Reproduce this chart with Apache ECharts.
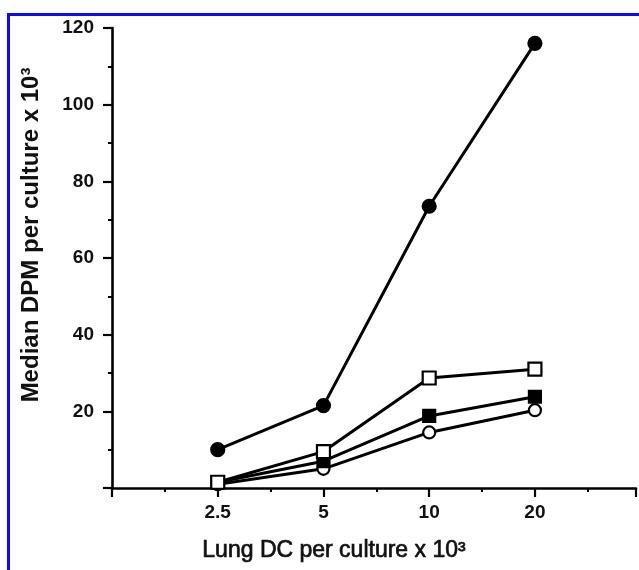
<!DOCTYPE html>
<html>
<head>
<meta charset="utf-8">
<style>
html,body{margin:0;padding:0;background:#fff;}
#chart{width:639px;height:570px;}
</style>
<script src="https://cdn.jsdelivr.net/npm/echarts@6/dist/echarts.min.js"></script>
</head>
<body>
<div id="chart"></div>
<script>
// Data
const xLabels = ['2.5', '5', '10', '20'];
const yTicks = [20, 40, 60, 80, 100, 120];
const filledCircles = [10, 21.5, 73.5, 116];
const openSquares = [1.5, 9.5, 28.7, 31];
const filledSquares = [1.5, 7, 18.8, 23.8];
const openCircles = [1, 5, 14.5, 20.3];

const xAxisName = 'Lung DC per culture x 10³';
const yAxisName = 'Median DPM per culture x 10³';

function pairs(vals){ return vals.map((v,i)=>[i+1, v]); }

const chart = echarts.init(document.getElementById('chart'), null, {renderer:'canvas'});
const font = 'Liberation Sans, Arial, sans-serif';
const lineStyle = {color:'#000', width:3};

function series(vals, symbol, filled, size){
  return {
    type:'line', data:pairs(vals), symbol:symbol, symbolSize:size,
    showAllSymbol:true, animation:false,
    lineStyle:lineStyle,
    itemStyle:{color: filled ? '#000' : '#fff', borderColor:'#000', borderWidth:2.2},
    emphasis:{disabled:true}
  };
}

chart.setOption({
  backgroundColor:'#fff',
  animation:false,
  grid:{left:112, right:0, top:28, bottom:82, containLabel:false},
  graphic:[{type:'rect', left:6, top:12, shape:{x:0,y:0,width:720,height:640}, style:{fill:'none', stroke:'#0a0aff', lineWidth:3}, silent:true, z:100}],
  xAxis:{
    type:'value', min:0, max:4.956, interval:1,
    axisLine:{lineStyle:{color:'#000', width:2.6}},
    axisTick:{length:9, lineStyle:{color:'#000', width:2.2}},
    minorTick:{show:true, splitNumber:2, length:4, lineStyle:{color:'#000', width:2}},
    splitLine:{show:false},
    axisLabel:{
      formatter:function(v){ const i=Math.round(v)-1; return (Math.abs(v-Math.round(v))<1e-6 && i>=0 && i<xLabels.length)? xLabels[i] : ''; },
      color:'#111', fontFamily:font, fontWeight:'bold', fontSize:19, margin:15
    },
    name:xAxisName, nameLocation:'middle', nameGap:51,
    nameTextStyle:{color:'#111', fontFamily:font, fontSize:23, textBorderColor:'#111', textBorderWidth:0.7, padding:[0,80,0,0]}
  },
  yAxis:{
    type:'value', min:0, max:120, interval:20,
    axisLine:{show:true, lineStyle:{color:'#000', width:2.6}},
    axisTick:{show:true, length:9, lineStyle:{color:'#000', width:2.2}},
    minorTick:{show:true, splitNumber:2, length:4, lineStyle:{color:'#000', width:2}},
    splitLine:{show:false},
    axisLabel:{
      formatter:function(v){ return yTicks.indexOf(v)>=0 ? String(v) : ''; },
      color:'#111', fontFamily:font, fontWeight:'bold', fontSize:19, margin:18
    },
    name:yAxisName, nameLocation:'middle', nameGap:69, nameRotate:90,
    nameTextStyle:{color:'#111', fontFamily:font, fontWeight:'bold', fontSize:24, padding:[0,0,0,46]}
  },
  series:[
    series(openCircles, 'circle', false, 12),
    series(filledSquares, 'rect', true, 12),
    series(openSquares, 'rect', false, 13),
    series(filledCircles, 'circle', true, 13)
  ]
});
</script>
</body>
</html>
